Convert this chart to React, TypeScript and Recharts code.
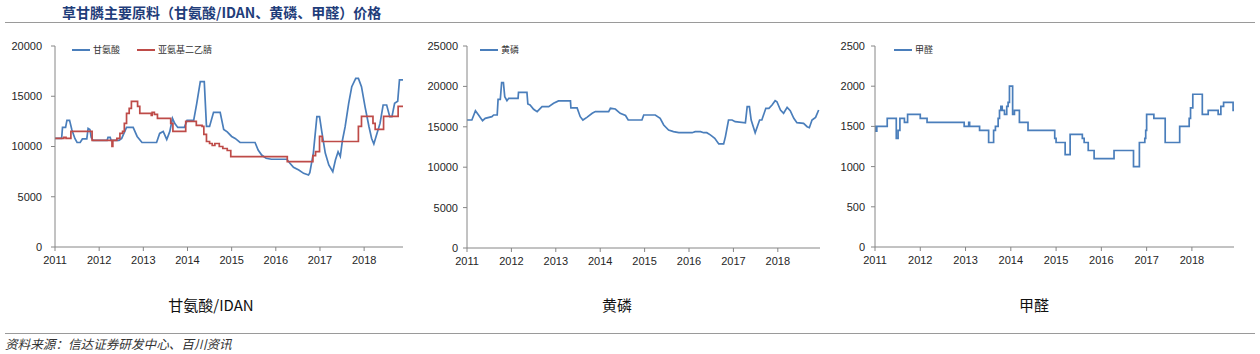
import React from 'react';
import { LineChart, Line, XAxis, YAxis, Legend } from 'recharts';

const yearTicks = [2011, 2012, 2013, 2014, 2015, 2016, 2017, 2018];

// 甘氨酸 (blue)
const glyT = [2011.0, 2011.15, 2011.17, 2011.24, 2011.27, 2011.33, 2011.38, 2011.45, 2011.5, 2011.57, 2011.62, 2011.72, 2011.75, 2011.79, 2011.82, 2011.86, 2012.18, 2012.2, 2012.25, 2012.27, 2012.45, 2012.51, 2012.62, 2012.77, 2012.86, 2012.97, 2013.3, 2013.37, 2013.45, 2013.53, 2013.6, 2013.66, 2013.71, 2013.78, 2013.93, 2013.99, 2014.14, 2014.21, 2014.29, 2014.38, 2014.43, 2014.5, 2014.59, 2014.74, 2014.82, 2014.9, 2015.0, 2015.08, 2015.19, 2015.53, 2015.6, 2015.68, 2015.78, 2015.9, 2016.25, 2016.32, 2016.4, 2016.52, 2016.63, 2016.74, 2016.77, 2016.85, 2016.93, 2016.99, 2017.04, 2017.12, 2017.2, 2017.29, 2017.35, 2017.41, 2017.46, 2017.51, 2017.57, 2017.65, 2017.72, 2017.81, 2017.87, 2017.94, 2018.02, 2018.11, 2018.17, 2018.22, 2018.28, 2018.36, 2018.43, 2018.51, 2018.58, 2018.63, 2018.69, 2018.76, 2018.8, 2018.88];
const glyV = [10800, 10800, 11900, 11900, 12600, 12600, 11700, 10800, 10400, 10400, 10750, 10750, 11800, 11700, 10900, 10600, 10600, 10900, 10900, 10600, 10600, 10800, 11900, 11900, 11000, 10400, 10400, 11300, 11500, 10700, 11500, 12800, 12300, 11900, 11900, 12600, 12600, 14300, 16450, 16450, 12000, 12000, 13400, 13400, 11700, 11450, 11000, 10800, 10400, 10400, 9650, 9150, 8830, 8730, 8730, 8330, 7930, 7660, 7330, 7160, 7400, 9350, 12970, 12970, 11500, 9350, 8160, 7500, 8660, 9480, 9000, 10650, 11970, 14300, 15950, 16780, 16780, 15950, 13960, 11970, 10800, 10250, 11140, 12300, 14130, 14130, 12970, 12970, 14300, 14500, 16620, 16620];

// 亚氨基二乙腈 (red, step changes)
const idanT = [2011.0, 2011.2, 2011.25, 2011.36, 2011.84, 2012.29, 2012.31, 2012.4, 2012.47, 2012.53, 2012.57, 2012.62, 2012.68, 2012.73, 2012.87, 2012.92, 2013.18, 2013.2, 2013.25, 2013.32, 2013.62, 2013.67, 2013.96, 2014.2, 2014.33, 2014.37, 2014.43, 2014.5, 2014.56, 2014.62, 2014.72, 2014.8, 2014.9, 2014.98, 2016.26, 2016.84, 2016.9, 2016.99, 2017.05, 2017.87, 2017.94, 2018.2, 2018.25, 2018.44, 2018.77, 2018.88];
const idanV = [10800, 10900, 10800, 11500, 10600, 10000, 10600, 10800, 11300, 11500, 12300, 13300, 13800, 14500, 14000, 13300, 13100, 13400, 13200, 12800, 12300, 11500, 12500, 12100, 12000, 11200, 10500, 10300, 10100, 10300, 10000, 9800, 9600, 9000, 8500, 9100, 9500, 11000, 10500, 12000, 13000, 12300, 11700, 13000, 14000, 14000];

// 黄磷
const phT = [2011.0, 2011.11, 2011.19, 2011.26, 2011.35, 2011.41, 2011.56, 2011.6, 2011.68, 2011.7, 2011.75, 2011.78, 2011.82, 2011.85, 2011.9, 2011.94, 2012.15, 2012.16, 2012.35, 2012.37, 2012.42, 2012.5, 2012.58, 2012.69, 2012.84, 2012.95, 2013.06, 2013.33, 2013.34, 2013.48, 2013.55, 2013.61, 2013.7, 2013.82, 2013.89, 2014.19, 2014.23, 2014.34, 2014.45, 2014.57, 2014.63, 2014.94, 2014.98, 2015.24, 2015.35, 2015.43, 2015.54, 2015.65, 2015.77, 2016.07, 2016.14, 2016.26, 2016.33, 2016.4, 2016.48, 2016.58, 2016.67, 2016.78, 2016.82, 2016.89, 2016.97, 2017.04, 2017.27, 2017.31, 2017.36, 2017.4, 2017.49, 2017.59, 2017.64, 2017.73, 2017.8, 2017.87, 2017.94, 2017.98, 2018.06, 2018.13, 2018.21, 2018.28, 2018.36, 2018.43, 2018.58, 2018.66, 2018.71, 2018.77, 2018.85, 2018.92];
const phV = [15840, 15840, 16990, 16460, 15760, 16050, 16250, 16460, 16460, 18400, 18400, 20470, 20470, 18730, 18230, 18520, 18520, 19270, 19270, 17830, 17700, 17170, 16880, 17500, 17500, 17910, 18200, 18200, 17330, 17330, 16250, 15840, 16170, 16670, 16880, 16880, 17290, 17200, 16670, 16400, 15840, 15840, 16460, 16460, 16050, 15220, 14600, 14400, 14270, 14270, 14400, 14400, 14270, 14270, 14000, 13580, 12880, 12880, 13790, 15840, 15840, 15630, 15500, 17500, 17500, 15840, 14270, 15840, 15840, 17290, 17290, 17700, 18230, 18100, 17080, 16670, 17410, 17000, 16050, 15510, 15430, 15010, 14890, 15840, 16170, 17080];

// 甲醛 (step changes)
const fmT = [2011.0, 2011.02, 2011.04, 2011.27, 2011.47, 2011.51, 2011.55, 2011.65, 2011.72, 2012.0, 2012.15, 2012.97, 2013.07, 2013.09, 2013.31, 2013.51, 2013.62, 2013.66, 2013.72, 2013.75, 2013.78, 2013.81, 2013.86, 2013.91, 2013.94, 2013.97, 2014.04, 2014.08, 2014.19, 2014.38, 2014.97, 2015.0, 2015.2, 2015.31, 2015.58, 2015.62, 2015.71, 2015.84, 2016.28, 2016.71, 2016.84, 2016.96, 2016.98, 2017.0, 2017.16, 2017.41, 2017.73, 2017.94, 2017.97, 2018.02, 2018.23, 2018.36, 2018.58, 2018.64, 2018.7, 2018.91, 2018.93];
const fmV = [1500, 1440, 1500, 1600, 1350, 1450, 1600, 1550, 1650, 1600, 1550, 1500, 1550, 1500, 1450, 1300, 1450, 1500, 1600, 1700, 1750, 1700, 1650, 1750, 1800, 2000, 1650, 1700, 1550, 1450, 1350, 1300, 1150, 1400, 1350, 1300, 1200, 1100, 1200, 1000, 1300, 1350, 1450, 1650, 1600, 1300, 1500, 1600, 1730, 1900, 1650, 1700, 1650, 1750, 1800, 1700, 1700];

const glyTicks = [0, 5000, 10000, 15000, 20000];
const phTicks = [0, 5000, 10000, 15000, 20000, 25000];
const fmTicks = [0, 500, 1000, 1500, 2000, 2500];

const toPoints = (t: number[], v: number[]) => t.map((x, i) => ({ t: x, v: v[i] }));

const BLUE = '#4A7EBB';
const RED = '#BE4B48';
const AXIS = '#868686';
const NUM_FONT = '"Liberation Sans", Arial, sans-serif';
const CJK = '"Noto Sans CJK SC", "Noto Sans", sans-serif';

type Series = { name: string; t: number[]; v: number[]; color: string; step?: boolean };

const LegendBox = ({ series }: { series: Series[] }) => (
  <div style={{ display: 'flex', alignItems: 'center', fontFamily: CJK, fontSize: 9, color: '#333' }}>
    {series.map((s) => (
      <span key={s.name} style={{ display: 'flex', alignItems: 'center', marginRight: 17 }}>
        <span style={{ display: 'inline-block', width: 18, borderTop: `2px solid ${s.color}`, marginRight: 3 }} />
        {s.name}
      </span>
    ))}
  </div>
);

const Panel = ({ left, width, yWidth, yMargin, yTicks, xMax, series, legendLeft, rightMargin, xHeight }: {
  left: number; width: number; yWidth: number; yMargin: number; yTicks: number[]; xMax: number;
  series: Series[]; legendLeft: number; rightMargin: number; xHeight: number;
}) => (
  <div style={{ position: 'absolute', left, top: 36 }}>
    <LineChart width={width} height={240} margin={{ top: 10, right: rightMargin, bottom: 0, left: 0 }}>
      <XAxis
        type="number"
        dataKey="t"
        domain={[2011, xMax]}
        ticks={yearTicks}
        allowDataOverflow
        height={xHeight}
        stroke={AXIS}
        tickSize={4}
        tickMargin={5}
        tick={{ fill: '#262626', fontSize: 11, fontFamily: NUM_FONT }}
      />
      <YAxis
        type="number"
        domain={[0, yTicks[yTicks.length - 1]]}
        ticks={yTicks}
        width={yWidth}
        stroke={AXIS}
        tickSize={4}
        tickMargin={yMargin}
        tick={{ fill: '#262626', fontSize: 11, fontFamily: NUM_FONT }}
      />
      <Legend
        verticalAlign="middle"
        align="center"
        layout="horizontal"
        wrapperStyle={{ top: 7, left: legendLeft, width: 'auto' }}
        content={() => <LegendBox series={series} />}
      />
      {series.map((s) => (
        <Line
          key={s.name}
          data={toPoints(s.t, s.v)}
          dataKey="v"
          name={s.name}
          type={s.step ? 'stepAfter' : 'linear'}
          stroke={s.color}
          strokeWidth={1.7}
          dot={false}
          isAnimationActive={false}
        />
      ))}
    </LineChart>
  </div>
);

const captionStyle: React.CSSProperties = {
  position: 'absolute', top: 294, fontFamily: CJK, fontSize: 15, color: '#111',
  width: 200, textAlign: 'center',
};

export default function App() {
  return (
    <div style={{ position: 'absolute', left: 0, top: 0, width: 1260, height: 354, background: '#fff', overflow: 'hidden' }}>
      <div style={{ position: 'absolute', left: 62, top: 2, fontFamily: CJK, fontWeight: 700, fontSize: 14, color: '#1F3D7A', whiteSpace: 'nowrap' }}>
        草甘膦主要原料（甘氨酸/IDAN、黄磷、甲醛）价格
      </div>
      <div style={{ position: 'absolute', left: 5, top: 22, width: 1250, borderTop: '1px solid #9a9a9a' }} />

      <Panel
        left={0} width={410} yWidth={55} yMargin={9} yTicks={glyTicks} xMax={2018.88}
        rightMargin={7} xHeight={29} legendLeft={72}
        series={[
          { name: '甘氨酸', t: glyT, v: glyV, color: BLUE },
          { name: '亚氨基二乙腈', t: idanT, v: idanV, color: RED, step: true },
        ]}
      />
      <Panel
        left={420} width={410} yWidth={47} yMargin={5} yTicks={phTicks} xMax={2018.95}
        rightMargin={10} xHeight={28} legendLeft={60}
        series={[{ name: '黄磷', t: phT, v: phV, color: BLUE }]}
      />
      <Panel
        left={830} width={420} yWidth={45} yMargin={6} yTicks={fmTicks} xMax={2018.93}
        rightMargin={16} xHeight={29} legendLeft={64}
        series={[{ name: '甲醛', t: fmT, v: fmV, color: BLUE, step: true }]}
      />

      <div style={{ ...captionStyle, left: 111 }}>甘氨酸/IDAN</div>
      <div style={{ ...captionStyle, left: 517 }}>黄磷</div>
      <div style={{ ...captionStyle, left: 934 }}>甲醛</div>

      <div style={{ position: 'absolute', left: 5, top: 333, width: 1250, borderTop: '1px solid #9a9a9a' }} />
      <div style={{ position: 'absolute', left: 5, top: 334, fontFamily: CJK, fontStyle: 'italic', fontSize: 12.6, color: '#333', whiteSpace: 'nowrap' }}>
        资料来源：信达证券研发中心、百川资讯
      </div>
    </div>
  );
}
